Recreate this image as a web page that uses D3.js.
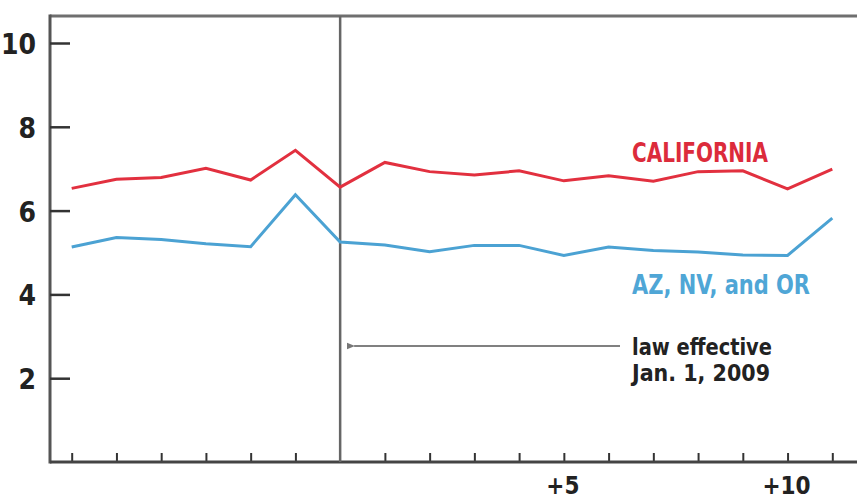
<!DOCTYPE html>
<html>
<head>
<meta charset="utf-8">
<script src="https://cdn.jsdelivr.net/npm/d3@7"></script>
<style>
  html, body { margin: 0; padding: 0; background: #fff; }
  svg { display: block; }
  text { font-family: "Liberation Sans Narrow", "DejaVu Sans Condensed", "Liberation Sans", sans-serif; font-weight: bold; }
</style>
</head>
<body>
<svg id="chart" width="857" height="500"></svg>
<script>
// Months relative to law effective date (Jan. 1, 2009)
const months = [-6,-5,-4,-3,-2,-1,0,1,2,3,4,5,6,7,8,9,10,11];
const california = [6.53,6.75,6.79,7.01,6.73,7.44,6.56,7.15,6.93,6.85,6.95,6.71,6.83,6.70,6.93,6.95,6.52,6.99];
const azNvOr     = [5.13,5.36,5.31,5.21,5.14,6.38,5.25,5.18,5.02,5.17,5.17,4.93,5.13,5.05,5.01,4.94,4.93,5.82];
const yTicks = [2,4,6,8,10];
const xTickLabels = [{v:5, label:"+5"}, {v:10, label:"+10"}];
const seriesNames = ["CALIFORNIA", "AZ, NV, and OR"];
const annotation = ["law effective", "Jan. 1, 2009"];
const lawMonth = 0;

const svg = d3.select("#chart");
const x = d3.scaleLinear().domain([-6, 11]).range([71.7, 832.3]);
const y = d3.scaleLinear().domain([0, 10]).range([462, 43]);
const mLeft = 50, mTop = 16, mBottom = 462, mRight = 857;

// frame
svg.append("line").attr("x1", mLeft).attr("x2", mRight).attr("y1", mTop).attr("y2", mTop)
  .attr("stroke", "#6f6f6f").attr("stroke-width", 3);
svg.append("line").attr("x1", mLeft).attr("x2", mLeft).attr("y1", mTop - 1.5).attr("y2", mBottom + 1.5)
  .attr("stroke", "#555").attr("stroke-width", 3);

// y axis ticks
const yAxis = d3.axisRight(y).tickValues(yTicks).tickSize(20).tickFormat("");
const gy = svg.append("g").attr("transform", `translate(${mLeft},0)`).call(yAxis);
gy.select(".domain").remove();
gy.selectAll(".tick line").attr("stroke", "#333").attr("stroke-width", 2.5);
svg.append("g").selectAll("text").data(yTicks).join("text")
  .attr("x", 36).attr("y", d => y(d) + 11)
  .attr("text-anchor", "end").attr("font-size", 28).attr("fill", "#222")
  .text(d => d);

// x axis
const xAxis = d3.axisTop(x).tickValues(months.filter(m => m !== lawMonth)).tickSize(9).tickFormat("");
const gx = svg.append("g").attr("transform", `translate(0,${mBottom})`).call(xAxis);
gx.select(".domain").remove();
gx.selectAll(".tick line").attr("stroke", "#333").attr("stroke-width", 2);
svg.append("line").attr("x1", mLeft).attr("x2", mRight).attr("y1", mBottom).attr("y2", mBottom)
  .attr("stroke", "#444").attr("stroke-width", 3);
svg.append("g").selectAll("text").data(xTickLabels).join("text")
  .attr("x", d => x(d.v) - 1).attr("y", 494)
  .attr("text-anchor", "middle").attr("font-size", 24).attr("fill", "#222")
  .text(d => d.label);

// law effective vertical line
svg.append("line").attr("x1", x(lawMonth)).attr("x2", x(lawMonth)).attr("y1", mTop).attr("y2", mBottom)
  .attr("stroke", "#666").attr("stroke-width", 2.5);

// lines
const line = d3.line().x((d, i) => x(months[i])).y(d => y(d));
svg.append("path").datum(azNvOr).attr("d", line).attr("fill", "none")
  .attr("stroke", "#4ba2d3").attr("stroke-width", 3).attr("stroke-linejoin", "miter");
svg.append("path").datum(california).attr("d", line).attr("fill", "none")
  .attr("stroke", "#e2303f").attr("stroke-width", 3).attr("stroke-linejoin", "miter");

// series labels
svg.append("text").attr("x", 632).attr("y", 161.5).attr("font-size", 27)
  .attr("fill", "#dc2b3b").attr("textLength", 136).attr("lengthAdjust", "spacingAndGlyphs")
  .text(seriesNames[0]);
svg.append("text").attr("x", 632).attr("y", 294).attr("font-size", 27)
  .attr("fill", "#4fa6d6").attr("textLength", 178).attr("lengthAdjust", "spacingAndGlyphs")
  .text(seriesNames[1]);

// annotation arrow
svg.append("defs").append("marker").attr("id", "ah").attr("viewBox", "0 0 10 10")
  .attr("refX", 1).attr("refY", 5).attr("markerWidth", 4).attr("markerHeight", 4)
  .attr("orient", "auto-start-reverse")
  .append("path").attr("d", "M10,1 L0,5 L10,9 Z").attr("fill", "#777");
svg.append("line").attr("x1", 620).attr("x2", x(lawMonth) + 14).attr("y1", 346).attr("y2", 346)
  .attr("stroke", "#808080").attr("stroke-width", 2).attr("marker-end", "url(#ah)");

svg.append("text").attr("x", 632).attr("y", 355).attr("font-size", 23).attr("fill", "#222")
  .attr("textLength", 140).attr("lengthAdjust", "spacingAndGlyphs").text(annotation[0]);
svg.append("text").attr("x", 632).attr("y", 381).attr("font-size", 23).attr("fill", "#222")
  .attr("textLength", 138).attr("lengthAdjust", "spacingAndGlyphs").text(annotation[1]);
</script>
</body>
</html>
